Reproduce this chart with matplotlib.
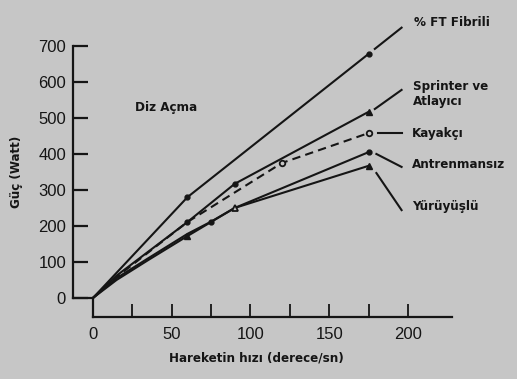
import numpy as np
import matplotlib
matplotlib.use("Agg")
import matplotlib.pyplot as plt

# Diz açma: güç - hız eğrileri (okunan değerler)
ft_x = [0, 15, 60, 175]
ft_y = [0, 70, 280, 678]
spr_x = [0, 15, 60, 90, 175]
spr_y = [0, 62, 211, 317, 517]
kay_x = [0, 15, 60, 120, 175]
kay_y = [0, 58, 211, 375, 458]
ant_x = [0, 15, 35, 60, 75, 90, 175]
ant_y = [0, 55, 110, 178, 212, 250, 405]
yur_x = [0, 15, 35, 60, 90, 175]
yur_y = [0, 50, 105, 172, 250, 367]

x_ticks = [0, 50, 100, 150, 200]
x_minor = [25, 75, 125, 175]
y_ticks = [0, 100, 200, 300, 400, 500, 600, 700]

bg = "#c6c6c6"
ink = "#151515"
lab_font = ["DejaVu Sans"]

plt.rcParams['font.family'] = ["Liberation Sans", "DejaVu Sans"]

fig = plt.figure(figsize=(5.17, 3.79), dpi=100, facecolor=bg)
ax = fig.add_axes([0.1412, 0.1636, 0.733, 0.715])
ax.set_facecolor(bg)
ax.set_xlim(-12.7, 228)
ax.set_ylim(-53, 700)

lw = 1.5
ax.plot(ft_x, ft_y, color=ink, lw=lw, marker="o", ms=3.5, markevery=[2, 3])
ax.plot(spr_x, spr_y, color=ink, lw=lw, marker="o", ms=3.5, markevery=[2, 3])
ax.plot([spr_x[-1]], [spr_y[-1]], color=ink, marker="^", ms=5, ls="none")
ax.plot(kay_x, kay_y, color=ink, lw=lw, ls=(0, (4, 2.5)))
ax.plot([kay_x[3], kay_x[4]], [kay_y[3], kay_y[4]], color=ink, marker="o", ms=4,
        mfc=bg, mew=1.3, ls="none")
ax.plot(ant_x, ant_y, color=ink, lw=lw, marker="o", ms=3.5, markevery=[4, 6])
ax.plot(yur_x, yur_y, color=ink, lw=lw)
ax.plot([yur_x[3], yur_x[5]], [yur_y[3], yur_y[5]], color=ink, marker="^", ms=4.5, ls="none")
ax.plot([yur_x[4]], [yur_y[4]], color=ink, marker="^", ms=5, mfc=bg, mew=1.3, ls="none")

# etiket çizgileri
leaders = [([179, 196], [692, 751]),
           ([179, 196], [525, 578]),
           ([181, 196], [458, 458]),
           ([180, 196], [400, 364]),
           ([180, 196], [347, 244])]
for lx, ly in leaders:
    ax.plot(lx, ly, color=ink, lw=lw, clip_on=False)

kw = dict(family=lab_font, fontweight="bold", fontstretch="condensed", fontsize=9.5,
          color=ink, va="center", ha="left")
ax.text(204, 764, "% FT Fibrili", clip_on=False, **kw)
ax.text(203, 567, "Sprinter ve\nAtlayıcı", clip_on=False, linespacing=1.2, **kw)
ax.text(202.5, 458, "Kayakçı", clip_on=False, **kw)
ax.text(202.5, 372, "Antrenmansız", clip_on=False, **kw)
ax.text(202.5, 253, "Yürüyüşlü", clip_on=False, **kw)
ax.text(26.7, 530, "Diz Açma", **kw)

# eksenler
for s in ["top", "right"]:
    ax.spines[s].set_visible(False)
ax.spines["left"].set_bounds(0, 700)
ax.spines["bottom"].set_bounds(0, 228)
for s in ["left", "bottom"]:
    ax.spines[s].set_linewidth(1.6)
    ax.spines[s].set_color(ink)
ax.plot([-12.7, 0, 0], [0, 0, -53], color=ink, lw=1.6, clip_on=False)

ax.set_yticks(y_ticks)
ax.set_xticks(x_ticks)
ax.set_xticks(x_minor, minor=True)
ax.tick_params(axis="y", direction="in", length=10.5, width=1.6, pad=5,
               labelsize=12, colors=ink)
ax.tick_params(axis="x", which="both", direction="in", length=9.5, width=1.3, pad=7,
               labelsize=12, colors=ink)

ax.set_xlabel("Hareketin hızı (derece/sn)", family=lab_font, fontweight="bold",
              fontstretch="condensed", fontsize=9.5, color=ink)
ax.xaxis.set_label_coords(0.483, -0.129)
ax.set_ylabel("Güç (Watt)", family=lab_font, fontweight="bold", fontstretch="condensed",
              fontsize=9.5, color=ink)
ax.yaxis.set_label_coords(-0.132, 0.535)

fig.savefig("out.png", dpi=100, facecolor=bg)
